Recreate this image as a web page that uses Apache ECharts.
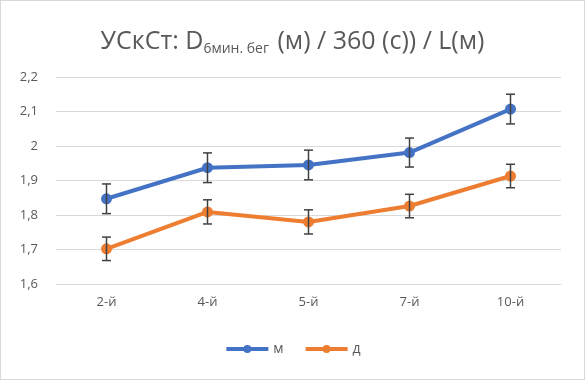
<!DOCTYPE html>
<html>
<head>
<meta charset="utf-8">
<script src="https://cdn.jsdelivr.net/npm/echarts@6/dist/echarts.min.js"></script>
<style>
    html, body { margin: 0; padding: 0; background: #fff; }
    #chart { width: 583px; height: 378px; border: 1px solid #d9d9d9; }
</style>
</head>
<body>
<div id="chart"></div>
<script>
    var categories = ['2-й', '4-й', '5-й', '7-й', '10-й'];
    var maleValues = [1.847, 1.937, 1.945, 1.981, 2.107];
    var maleErr = [0.043, 0.043, 0.043, 0.042, 0.043];
    var femaleValues = [1.702, 1.809, 1.780, 1.826, 1.913];
    var femaleErr = [0.034, 0.035, 0.035, 0.034, 0.034];

    var textColor = '#595959';
    var fontName = '"Open Sans", "Noto Sans", sans-serif';

    function errData(values, errs) {
        var out = [];
        for (var i = 0; i < values.length; i++) {
            out.push([i, values[i] - errs[i], values[i] + errs[i]]);
        }
        return out;
    }

    function renderErr(params, api) {
        var lo = api.coord([api.value(0), api.value(1)]);
        var hi = api.coord([api.value(0), api.value(2)]);
        var w = 4.5;
        var st = { stroke: '#404040', lineWidth: 1.5 };
        return {
            type: 'group',
            children: [
                { type: 'line', shape: { x1: lo[0], y1: lo[1], x2: hi[0], y2: hi[1] }, style: st },
                { type: 'line', shape: { x1: lo[0] - w, y1: lo[1], x2: lo[0] + w, y2: lo[1] }, style: st },
                { type: 'line', shape: { x1: hi[0] - w, y1: hi[1], x2: hi[0] + w, y2: hi[1] }, style: st }
            ]
        };
    }

    var chart = echarts.init(document.getElementById('chart'));
    chart.setOption({
        animation: false,
        title: {
            text: '{a|УСкСт: D}{s|6мин. бег}{a| (м) / 360 (с)) / L(м)}',
            left: 'center',
            top: 22,
            textStyle: {
                fontWeight: 'normal',
                rich: {
                    a: { fontSize: 25, color: textColor, fontFamily: fontName, fontWeight: 'normal' },
                    s: { fontSize: 14, color: textColor, fontFamily: fontName, fontWeight: 'normal', padding: [14, 2, 0, 0] }
                }
            }
        },
        legend: {
            bottom: 18,
            left: 'center',
            itemWidth: 42,
            itemHeight: 10,
            itemGap: 20,
            lineStyle: { width: 4 },
            textStyle: { color: textColor, fontSize: 14, fontFamily: fontName },
            data: ['м', 'д']
        },
        grid: { left: 55, right: 23, top: 76, bottom: 95 },
        xAxis: {
            type: 'category',
            data: categories,
            axisLine: { lineStyle: { color: '#d9d9d9' } },
            axisTick: { show: false },
            axisLabel: { color: textColor, fontSize: 13, fontFamily: fontName, margin: 12 }
        },
        yAxis: {
            type: 'value',
            min: 1.6,
            max: 2.2,
            interval: 0.1,
            axisLine: { show: false },
            axisTick: { show: false },
            splitLine: { lineStyle: { color: '#d9d9d9' } },
            axisLabel: {
                color: textColor, fontSize: 13, fontFamily: fontName, margin: 18,
                formatter: function (v) { return String(+v.toFixed(1)).replace('.', ','); }
            }
        },
        series: [
            {
                name: 'м', type: 'line', data: maleValues,
                symbol: 'circle', symbolSize: 11,
                lineStyle: { width: 4, color: '#4472C4' },
                itemStyle: { color: '#4472C4' }
            },
            {
                name: 'д', type: 'line', data: femaleValues,
                symbol: 'circle', symbolSize: 11,
                lineStyle: { width: 4, color: '#ED7D31' },
                itemStyle: { color: '#ED7D31' }
            },
            {
                type: 'custom', renderItem: renderErr, data: errData(maleValues, maleErr),
                z: 5, silent: true
            },
            {
                type: 'custom', renderItem: renderErr, data: errData(femaleValues, femaleErr),
                z: 5, silent: true
            }
        ]
    });
</script>
</body>
</html>
